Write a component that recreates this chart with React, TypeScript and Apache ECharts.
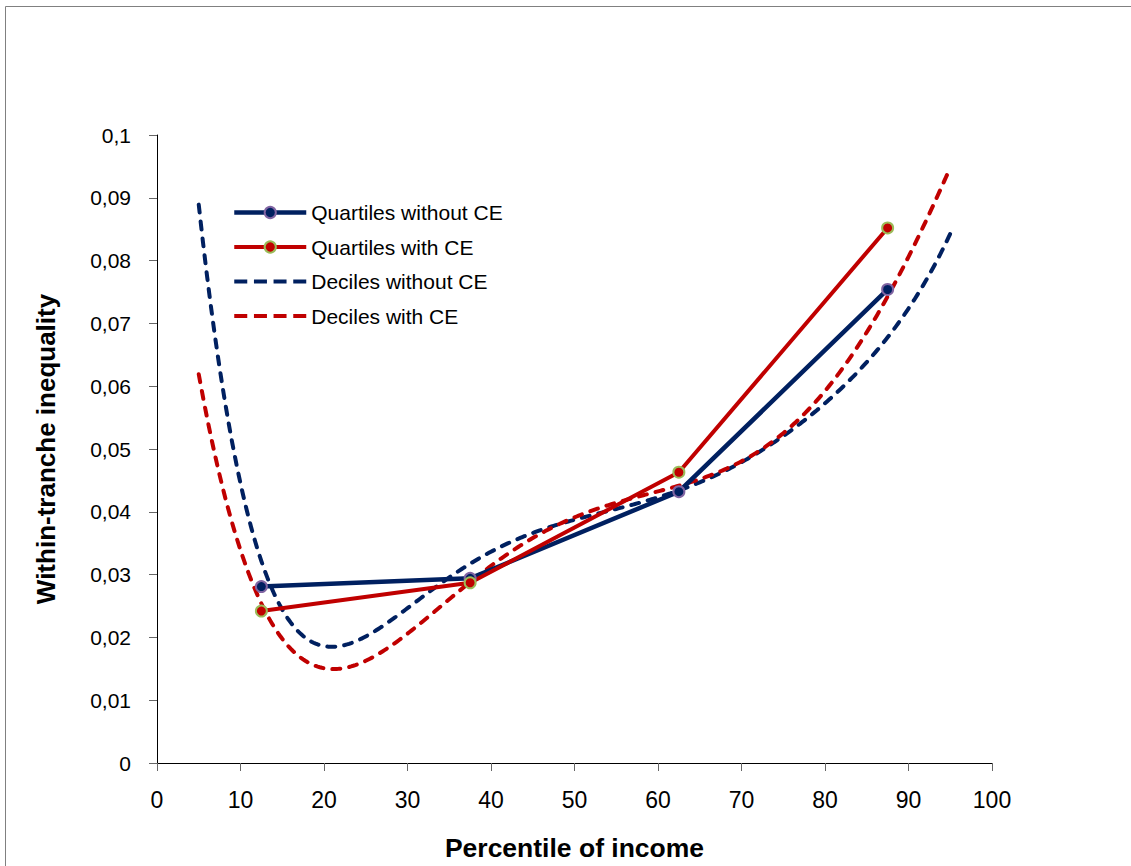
import React, { useEffect, useRef } from "react";
import * as echarts from "echarts";

const quartileX = [12.5, 37.5, 62.5, 87.5];
const quartilesWithoutCE = [0.0281, 0.0294, 0.0432, 0.0754];
const quartilesWithCE = [0.0242, 0.0287, 0.0463, 0.0852];

const decileX = [5, 15, 25, 35, 45, 55, 65, 75, 85, 95];
const decilesWithoutCE = [0.0889, 0.0245, 0.0200, 0.0297, 0.0366, 0.0404, 0.0447, 0.0521, 0.0638, 0.0843];
const decilesWithCE = [0.0619, 0.0198, 0.0162, 0.0262, 0.0357, 0.0415, 0.0452, 0.0525, 0.0686, 0.0948];

const seriesNames = ["Quartiles without CE", "Quartiles with CE", "Deciles without CE", "Deciles with CE"];

const NAVY = "#002060";
const RED = "#C00000";
const FONT = "Liberation Sans, Arial, sans-serif";
const TREND_ORDER = 6;

const DASH_ICON = "path://M0,0h13v4h-13z M19.7,0h13v4h-13z M39.3,0h13v4h-13z M59,0h13v4h-13z";

// least-squares polynomial trendline (like a spreadsheet polynomial trendline)
function fitPolynomial(xs: number[], ys: number[], order: number) {
  const n = order + 1;
  const scale = (x: number) => (x - 50) / 50;
  const A: number[][] = Array.from({ length: n }, () => new Array(n + 1).fill(0));
  for (let k = 0; k < xs.length; k++) {
    const t = scale(xs[k]);
    const pw: number[] = [];
    for (let i = 0; i < 2 * n; i++) pw.push(Math.pow(t, i));
    for (let r = 0; r < n; r++) {
      for (let c = 0; c < n; c++) A[r][c] += pw[r + c];
      A[r][n] += pw[r] * ys[k];
    }
  }
  for (let col = 0; col < n; col++) {
    let piv = col;
    for (let r = col + 1; r < n; r++) if (Math.abs(A[r][col]) > Math.abs(A[piv][col])) piv = r;
    [A[col], A[piv]] = [A[piv], A[col]];
    for (let r = 0; r < n; r++) {
      if (r === col) continue;
      const f = A[r][col] / A[col][col];
      for (let c = col; c <= n; c++) A[r][c] -= f * A[col][c];
    }
  }
  const coef = A.map((row, i) => row[n] / row[i]);
  return (x: number) => {
    const t = scale(x);
    let v = 0;
    for (let i = n - 1; i >= 0; i--) v = v * t + coef[i];
    return v;
  };
}

function trendSeries(name: string, xs: number[], ys: number[], color: string) {
  const poly = fitPolynomial(xs, ys, TREND_ORDER);
  return {
    type: "custom",
    name,
    itemStyle: { color },
    data: xs.map((x, i) => [x, ys[i]]),
    encode: { x: 0, y: 1 },
    renderItem: (params: any, api: any) => {
      if (params.dataIndex !== 0) return null;
      const x0 = xs[0];
      const x1 = xs[xs.length - 1];
      const pts: number[][] = [];
      const steps = 360;
      for (let k = 0; k <= steps; k++) {
        const x = x0 + ((x1 - x0) * k) / steps;
        pts.push(api.coord([x, poly(x)]));
      }
      return {
        type: "polyline",
        shape: { points: pts },
        style: { stroke: color, lineWidth: 4, lineDash: [8, 9], lineCap: "round", fill: null },
        silent: true,
      };
    },
  };
}

export default function App() {
  const ref = useRef<HTMLDivElement>(null);
  useEffect(() => {
    if (!ref.current) return;
    const chart = echarts.init(ref.current, null, { renderer: "svg" });
    chart.setOption({
      animation: false,
      backgroundColor: "#fff",
      graphic: [
        {
          type: "rect",
          silent: true,
          z: -10,
          shape: { x: 5.5, y: 6.5, width: 1300, height: 1000 },
          style: { fill: "none", stroke: "#808080", lineWidth: 1 },
        },
      ],
      grid: { left: 157, right: 139, top: 135, bottom: 101, containLabel: false },
      legend: {
        orient: "vertical",
        left: 232,
        top: 202,
        padding: 0,
        itemWidth: 72,
        itemHeight: 14,
        itemGap: 13.5,
        textStyle: { fontFamily: FONT, fontSize: 21, color: "#000" },
        data: [
          { name: seriesNames[0], lineStyle: { width: 4.5, color: NAVY } },
          { name: seriesNames[1], lineStyle: { width: 4, color: RED } },
          { name: seriesNames[2], icon: DASH_ICON },
          { name: seriesNames[3], icon: DASH_ICON },
        ],
      },
      xAxis: {
        type: "value",
        min: 0,
        max: 100,
        interval: 10,
        name: "Percentile of income",
        nameLocation: "middle",
        nameGap: 71,
        nameTextStyle: { fontFamily: FONT, fontSize: 26.5, fontWeight: "bold", color: "#000" },
        axisLine: { lineStyle: { color: "#000", width: 1 } },
        axisTick: { show: true, length: 8, lineStyle: { color: "#666" } },
        axisLabel: { margin: 25, fontFamily: FONT, fontSize: 23, color: "#000" },
        splitLine: { show: false },
      },
      yAxis: {
        type: "value",
        min: 0,
        max: 0.1,
        interval: 0.01,
        name: "Within-tranche inequality",
        nameLocation: "middle",
        nameGap: 98,
        nameTextStyle: { fontFamily: FONT, fontSize: 26, fontWeight: "bold", color: "#000" },
        axisLine: { show: true, lineStyle: { color: "#000", width: 1 } },
        axisTick: { show: true, length: 8, lineStyle: { color: "#666" } },
        axisLabel: {
          margin: 26,
          fontFamily: FONT,
          fontSize: 21,
          color: "#000",
          formatter: (v: number) => String(Math.round(v * 100) / 100).replace(".", ","),
        },
        splitLine: { show: false },
      },
      series: [
        {
          type: "line",
          name: seriesNames[0],
          data: quartileX.map((x, i) => [x, quartilesWithoutCE[i]]),
          symbol: "circle",
          symbolSize: 11,
          lineStyle: { color: NAVY, width: 4.5 },
          itemStyle: { color: NAVY, borderColor: "#8064A2", borderWidth: 2 },
          z: 3,
        },
        {
          type: "line",
          name: seriesNames[1],
          data: quartileX.map((x, i) => [x, quartilesWithCE[i]]),
          symbol: "circle",
          symbolSize: 11,
          lineStyle: { color: RED, width: 4 },
          itemStyle: { color: RED, borderColor: "#9BBB59", borderWidth: 2 },
          z: 3,
        },
        trendSeries(seriesNames[2], decileX, decilesWithoutCE, NAVY),
        trendSeries(seriesNames[3], decileX, decilesWithCE, RED),
      ],
    });
    return () => chart.dispose();
  }, []);
  return (
    <div
      ref={ref}
      style={{ position: "fixed", left: 0, top: 0, width: 1131, height: 866, background: "#fff" }}
    />
  );
}
